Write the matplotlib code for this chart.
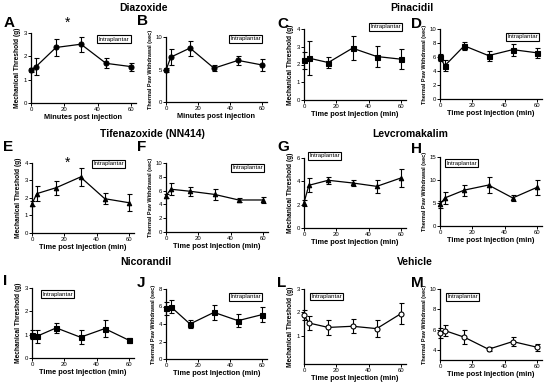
import matplotlib
matplotlib.use("Agg")
import matplotlib.pyplot as plt

plt.rcParams['font.family'] = ['Liberation Sans', 'DejaVu Sans']

W, H = 550, 382
times = [0, 3, 15, 30, 45, 60]

# Values (mean, SEM)
A_mean = [1.42, 1.56, 2.38, 2.52, 1.70, 1.56]
A_err = [0.08, 0.35, 0.35, 0.33, 0.21, 0.17]
B_mean = [4.9, 6.9, 8.3, 5.2, 6.4, 5.7]
B_err = [0.3, 1.25, 1.15, 0.5, 0.75, 0.9]
C_mean = [2.23, 2.36, 2.11, 2.92, 2.45, 2.30]
C_err = [0.5, 0.95, 0.3, 0.68, 0.57, 0.57]
D_mean = [5.95, 4.76, 7.6, 6.2, 7.05, 6.6]
D_err = [0.5, 0.8, 0.55, 0.7, 0.85, 0.75]
E_mean = [1.68, 2.25, 2.59, 3.2, 1.96, 1.73]
E_err = [0.15, 0.43, 0.4, 0.52, 0.3, 0.48]
F_mean = [5.26, 6.2, 5.9, 5.45, 4.64, 4.64]
F_err = [0.3, 0.85, 0.65, 0.85, 0.35, 0.4]
G_mean = [2.17, 3.66, 4.09, 3.86, 3.57, 4.29]
G_err = [0.25, 0.6, 0.3, 0.22, 0.55, 0.75]
H_mean = [4.68, 6.1, 7.8, 8.9, 6.1, 8.4]
H_err = [0.7, 1.4, 1.2, 1.7, 0.6, 1.7]
I_mean = [1.0, 0.93, 1.29, 0.89, 1.26, 0.76]
I_err = [0.18, 0.28, 0.2, 0.29, 0.37, 0.1]
J_mean = [5.79, 5.98, 4.0, 5.33, 4.38, 5.07]
J_err = [0.75, 0.72, 0.48, 0.86, 0.76, 0.87]
L_mean = [1.88, 1.55, 1.36, 1.41, 1.31, 1.95]
L_err = [0.21, 0.3, 0.33, 0.3, 0.35, 0.46]
M_mean = [5.7, 5.9, 5.25, 4.06, 4.82, 4.26]
M_err = [0.5, 0.55, 0.7, 0.2, 0.43, 0.33]

titles = ["Diazoxide", "Pinacidil", "Tifenazoxide (NN414)", "Levcromakalim", "Nicorandil", "Vehicle"]
mech_label = "Mechanical Threshold (g)"
therm_label = "Thermal Paw Withdrawal (sec)"
xlab_min = "Minutes post injection"
xlab_time = "Time post Injection (min)"

fig = plt.figure(figsize=(W / 100, H / 100), dpi=100)

# letter, data, err, pixel geometry (x0, x60, ytop, ybot), ylim, yticks, ylabel, xlabel, marker, filled, box pos
panels = [
    ("A", A_mean, A_err, (31, 131, 33, 103), (0, 3), [0, 1, 2, 3], mech_label, xlab_min, 'o', True, (0.79, 0.91)),
    ("B", B_mean, B_err, (166, 262, 37, 102), (0, 10), [0, 5, 10], therm_label, xlab_min, 'o', True, (0.79, 0.97)),
    ("C", C_mean, C_err, (304, 401, 29, 100), (0, 4), [0, 1, 2, 3, 4], mech_label, xlab_time, 's', True, (0.80, 1.03)),
    ("D", D_mean, D_err, (440, 537, 29, 99), (0, 10), [0, 2, 4, 6, 8, 10], therm_label, xlab_time, 's', True, (0.81, 0.89)),
    ("E", E_mean, E_err, (32, 129, 163, 233), (0, 4), [0, 1, 2, 3, 4], mech_label, xlab_time, '^', True, (0.75, 0.99)),
    ("F", F_mean, F_err, (166, 263, 163, 232), (0, 10), [0, 2, 4, 6, 8, 10], therm_label, xlab_time, '^', True, (0.80, 0.93)),
    ("G", G_mean, G_err, (304, 401, 158, 228), (0, 6), [0, 2, 4, 6], mech_label, xlab_time, '^', True, (0.20, 1.03)),
    ("H", H_mean, H_err, (440, 537, 157, 226), (0, 15), [0, 5, 10, 15], therm_label, xlab_time, '^', True, (0.21, 0.91)),
    ("I", I_mean, I_err, (32, 129, 288, 358), (0, 3), [0, 1, 2, 3], mech_label, xlab_time, 's', True, (0.25, 0.91)),
    ("J", J_mean, J_err, (166, 262, 289, 359), (0, 8), [0, 2, 4, 6, 8], therm_label, xlab_time, 's', True, (0.79, 0.89)),
    ("L", L_mean, L_err, (304, 401, 289, 364), (-0.2, 3), [1, 2, 3], mech_label, xlab_time, 'o', False, (0.22, 0.90)),
    ("M", M_mean, M_err, (440, 537, 289, 360), (3, 10), [4, 6, 8, 10], therm_label, xlab_time, 'o', False, (0.22, 0.89)),
]

letter_pos = {"A": (4, 16), "B": (137, 14), "C": (277, 17), "D": (411, 17),
              "E": (3, 140), "F": (137, 140), "G": (277, 140), "H": (411, 142),
              "I": (3, 274), "J": (137, 276), "L": (277, 276), "M": (411, 276)}

XMAX = 63
for (let, mean, err, (x0, x60, ytop, ybot), ylim, yticks, ylab, xlab, mk, filled, bpos) in panels:
    xr = x0 + (x60 - x0) * XMAX / 60
    ax = fig.add_axes([x0 / W, 1 - ybot / H, (xr - x0) / W, (ybot - ytop) / H])
    ax.errorbar(times, mean, yerr=err, color='black', lw=0.9, elinewidth=0.8,
                capsize=1.8, capthick=0.8, marker=mk, markersize=3.6 if mk != '^' else 3.2,
                markerfacecolor='black' if filled else 'white', markeredgecolor='black',
                markeredgewidth=0.8, clip_on=False, zorder=3)
    ax.set_xlim(0, XMAX)
    ax.set_ylim(*ylim)
    ax.set_xticks([0, 20, 40, 60])
    ax.set_yticks(yticks)
    for s in ['top', 'right']:
        ax.spines[s].set_visible(False)
    for s in ['left', 'bottom']:
        ax.spines[s].set_linewidth(0.9)
    ax.tick_params(labelsize=4.3, length=2, width=0.7, pad=1)
    ylab_fs = 4.8 if ylab == mech_label else 4.0
    ax.set_ylabel(ylab, fontsize=ylab_fs, fontweight='bold', labelpad=1.5)
    ax.set_xlabel(xlab, fontsize=5.3, fontweight='bold', labelpad=1.5)
    ax.text(bpos[0], bpos[1], "Intraplantar", transform=ax.transAxes, fontsize=4.3,
            ha='center', va='center',
            bbox=dict(boxstyle='square,pad=0.25', facecolor='white', edgecolor='black', linewidth=0.8))
    lx, ly = letter_pos[let]
    fig.text(lx / W, 1 - ly / H, let, fontsize=11, fontweight='bold', ha='left', va='top')
    if let == "A":
        ax.text(22, 3.45, "*", fontsize=10, ha='center', va='center')
    if let == "E":
        ax.text(22, 4.0, "*", fontsize=10, ha='center', va='center')

title_pos = [(144, 8), (412, 8), (152, 134), (410, 134), (146, 262), (415, 262)]
for t, (tx, ty) in zip(titles, title_pos):
    fig.text(tx / W, 1 - ty / H, t, fontsize=7.5, fontweight='bold', ha='center', va='center')

fig.savefig("out.png", dpi=100)
